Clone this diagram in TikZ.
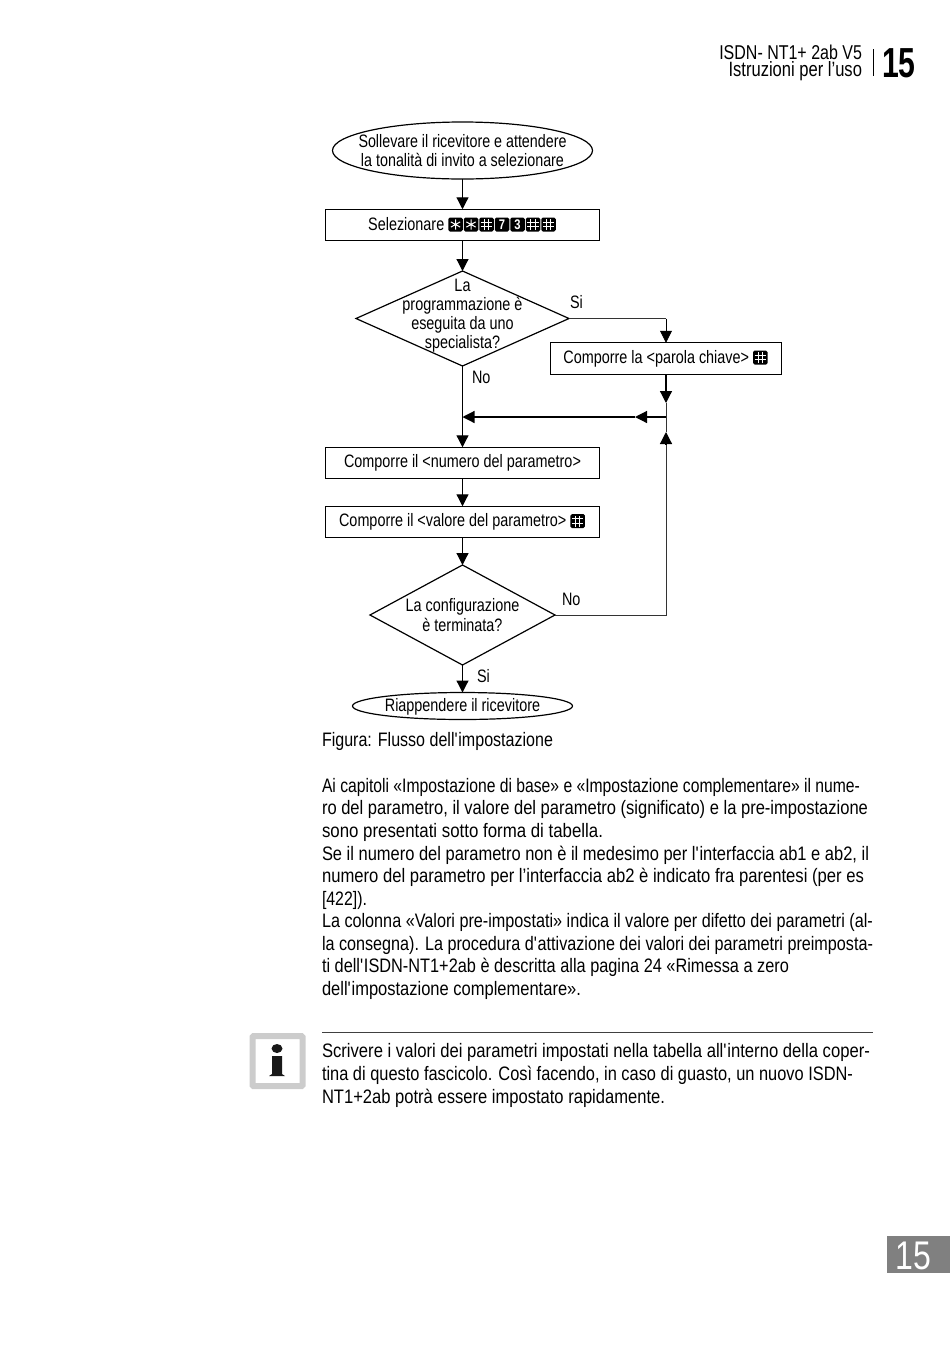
\documentclass[tikz,border=0pt]{standalone}
\usepackage{fontspec}
\usepackage{graphicx}
\setmainfont[FakeStretch=0.8]{Liberation Sans}
\newfontfamily\boldnum[FakeStretch=0.72]{Liberation Sans Bold}
\usetikzlibrary{arrows.meta,shapes.geometric}
\tikzset{
 x=1pt,y=-1pt,
 every node/.style={inner sep=0pt,outer sep=0pt},
 stepbox/.style={draw=black,line width=1.3pt,fill=white,minimum width=274pt,minimum height=31.5pt,font=\flowfont,execute at begin node={\rule[-4pt]{0pt}{17pt}}},
 oval/.style={ellipse,draw=black,line width=1.2pt,fill=white},
 choice/.style={diamond,draw=black,line width=1.2pt,fill=white},
 flowtext/.style={align=center,font=\fontsize{18}{19}\selectfont},
 lab/.style={font=\flowfont,anchor=base west},
 body/.style={font=\fontsize{19.5}{22}\selectfont,anchor=base west},
 flow/.style={line width=1.2pt,draw=black},
 thin flow/.style={line width=.8pt,draw=black!80},
 tip/.style={-{Triangle[length=12pt,width=12pt]},draw=black},
 keytext/.style={draw=none,fill=none,minimum width=0pt,minimum height=0pt,execute at begin node={},text=white,font=\fontsize{14}{14}\selectfont\bfseries},
}
\newcommand{\flowfont}{\fontsize{18}{20}\selectfont}
\newcommand{\fitline}[2]{\resizebox{#1pt}{\height}{#2}}
\newcommand{\qt}{\textquotesingle}
\newcommand{\kc}[1]{\tikz[baseline=1.5pt,x=1pt,y=1pt]{\fill[black,rounded corners=1.6pt] (0,0) rectangle (14.5,14);
 \node[keytext] at (7.25,7) {#1};}\kern1pt}
\newcommand{\hashkey}{\tikz[baseline=1.5pt,x=1pt,y=1pt]{\fill[black,rounded corners=1.6pt] (0,0) rectangle (14.5,14);
 \draw[white,line width=.9pt] (5,1.5)--(5,12.5) (9.5,1.5)--(9.5,12.5) (1.5,4.8)--(13,4.8) (1.5,9.2)--(13,9.2);}\kern1pt}
\newcommand{\starkey}{\tikz[baseline=1.5pt,x=1pt,y=1pt]{\fill[black,rounded corners=1.6pt] (0,0) rectangle (14.5,14);
 \draw[white,line width=1pt] (7.25,1.8)--(7.25,12.2) (2.6,4.4)--(11.9,9.6) (2.6,9.6)--(11.9,4.4);}\kern1pt}
\begin{document}
\begin{tikzpicture}
\useasboundingbox (0,0) rectangle (950,1345);
% header
\node[anchor=base east,font=\fontsize{20}{20}\selectfont] (h1) at (862,59.5) {ISDN- NT1+ 2ab V5};
\node[anchor=base east,font=\fontsize{20.7}{20}\selectfont] (h2) at (862,76) {Istruzioni per l’uso};
\coordinate (sepa) at (873,49); \coordinate (sepb) at (873,76);
\draw[line width=.6pt] (sepa) -- (sepb);
\node[anchor=base west,font=\fontsize{42}{42}\boldnum] (pg) at (882,77) {15};
% flow nodes
\node[oval,minimum width=260pt,minimum height=57pt] (start) at (462.5,150.5) {};
\node[flowtext] (startt) at (462.5,150.5) {\fitline{208}{Sollevare il ricevitore e attendere}\\\fitline{203}{la tonalità di invito a selezionare}};
\node[stepbox] (sel) at (462.5,225) {Selezionare \starkey\starkey\hashkey\kc{7}\kc{3}\hashkey\hashkey};
\node[choice,minimum width=213pt,minimum height=95pt,aspect=2.24] (q1) at (462.5,318.5) {};
\node[flowtext] (q1t) at (462.5,316) {La\\programmazione è\\eseguita da uno\\specialista?};
\node[stepbox,minimum width=231pt] (key) at (666,358.5) {Comporre la <parola chiave> \hashkey};
\node[stepbox] (num) at (462.5,463) {Comporre il <numero del parametro>};
\node[stepbox] (val) at (462.5,522) {Comporre il <valore del parametro> \hashkey};
\node[choice,minimum width=185pt,minimum height=100pt,aspect=1.85] (q2) at (462.5,615) {};
\node[flowtext,font=\fontsize{18}{20}\selectfont] (q2t) at (462.5,615) {La configurazione\\è terminata?};
\node[oval,minimum width=220pt,minimum height=27pt] (end) at (462.5,706) {};
\node[flowtext] (endt) at (462.5,707) {Riappendere il ricevitore};
% labels
\node[lab] (si1) at (570,308) {Si};
\node[lab] (no1) at (472,383) {No};
\node[lab] (no2) at (562,605) {No};
\node[lab] (si2) at (477,682) {Si};
% junction coordinates
\coordinate (j1) at (key.south |- 0,417);
\coordinate (j2) at (q1.south |- 0,417);
\coordinate (m1) at (key.south |- 0,403);
\coordinate (m2) at (635,417);
\coordinate (m3) at (key.south |- 0,432);
\coordinate (m4) at (key.south |- 0,444);
\coordinate (c1) at (q2.east -| key.south);
\coordinate (c0) at (q1.east -| key.north);
% connectors
\draw[flow,tip] (start) -- (sel);
\draw[flow,tip] (sel) -- (q1);
\draw[thin flow] (q1.east) -- (c0);
\draw[thin flow,tip] (c0) -- (key.north);
\draw[flow,tip] (key.south) -- (m1);
\draw[thin flow] (m1) -- (j1);
\draw[flow,tip] (j1) -- (m2);
\draw[flow,tip] (m2) -- (j2);
\draw[flow,tip] (q1.south) -- (num.north);
\draw[flow,tip] (num) -- (val);
\draw[flow,tip] (val) -- (q2);
\draw[flow,tip] (q2) -- (end);
\draw[thin flow,line width=1pt] (q2.east) -- (c1) -- (m4);
\draw[flow,tip] (m4) -- (m3);
\draw[thin flow] (m3) -- (j1);
% caption
\node[body] (cap) at (322,746) {\fitline{231}{Figura: Flusso dell\qt impostazione}};
% body text
\node[body] (t1) at (322,792.5) {\fitline{538}{Ai capitoli «Impostazione di base» e «Impostazione complementare» il nume-}};
\node[body] (t2) at (322,814.5) {\fitline{546}{ro del parametro, il valore del parametro (significato) e la pre-impostazione}};
\node[body] (t3) at (322,837.5) {\fitline{281}{sono presentati sotto forma di tabella.}};
\node[body] (t4) at (322,860) {\fitline{547}{Se il numero del parametro non è il medesimo per l\qt interfaccia ab1 e ab2, il}};
\node[body] (t5) at (322,882.5) {\fitline{542}{numero del parametro per l’interfaccia ab2 è indicato fra parentesi (per es}};
\node[body] (t6) at (322,905) {\fitline{45}{[422]).}};
\node[body] (t7) at (322,927.5) {\fitline{551}{La colonna «Valori pre-impostati» indica il valore per difetto dei parametri (al-}};
\node[body] (t8) at (322,950) {\fitline{551}{la consegna). La procedura d\qt attivazione dei valori dei parametri preimposta-}};
\node[body] (t9) at (322,972.5) {\fitline{467}{ti dell\qt ISDN-NT1+2ab è descritta alla pagina 24 «Rimessa a zero}};
\node[body] (t10) at (322,995.5) {\fitline{259}{dell\qt impostazione complementare».}};
% note
\coordinate (ra) at (322,1032); \coordinate (rb) at (873,1032);
\draw[line width=.6pt,black!75] (ra) -- (rb);
\node[draw=black!20,line width=6pt,fill=white,minimum width=50pt,minimum height=50pt,rounded corners=1pt] (ibox) at (277.5,1061) {};
\fill[black!90] (277,1048.5) ellipse (5.5pt and 4.5pt);
\fill[black!90] (272,1056) -- (282,1056) -- (282,1074) -- (285,1076) -- (269,1076) -- (272,1074) -- cycle;
\node[body] (n1) at (322,1057.5) {\fitline{548}{Scrivere i valori dei parametri impostati nella tabella all\qt interno della coper-}};
\node[body] (n2) at (322,1080) {\fitline{531}{tina di questo fascicolo. Così facendo, in caso di guasto, un nuovo ISDN-}};
\node[body] (n3) at (322,1103) {\fitline{343}{NT1+2ab potrà essere impostato rapidamente.}};
% tab
\node[fill=black!50,minimum width=63pt,minimum height=37pt,anchor=north west] (tab) at (887,1236) {};
\node[text=white,anchor=base,font=\fontsize{40}{40}\selectfont] (tabn) at (913.5,1269) {15};
\end{tikzpicture}
\end{document}
